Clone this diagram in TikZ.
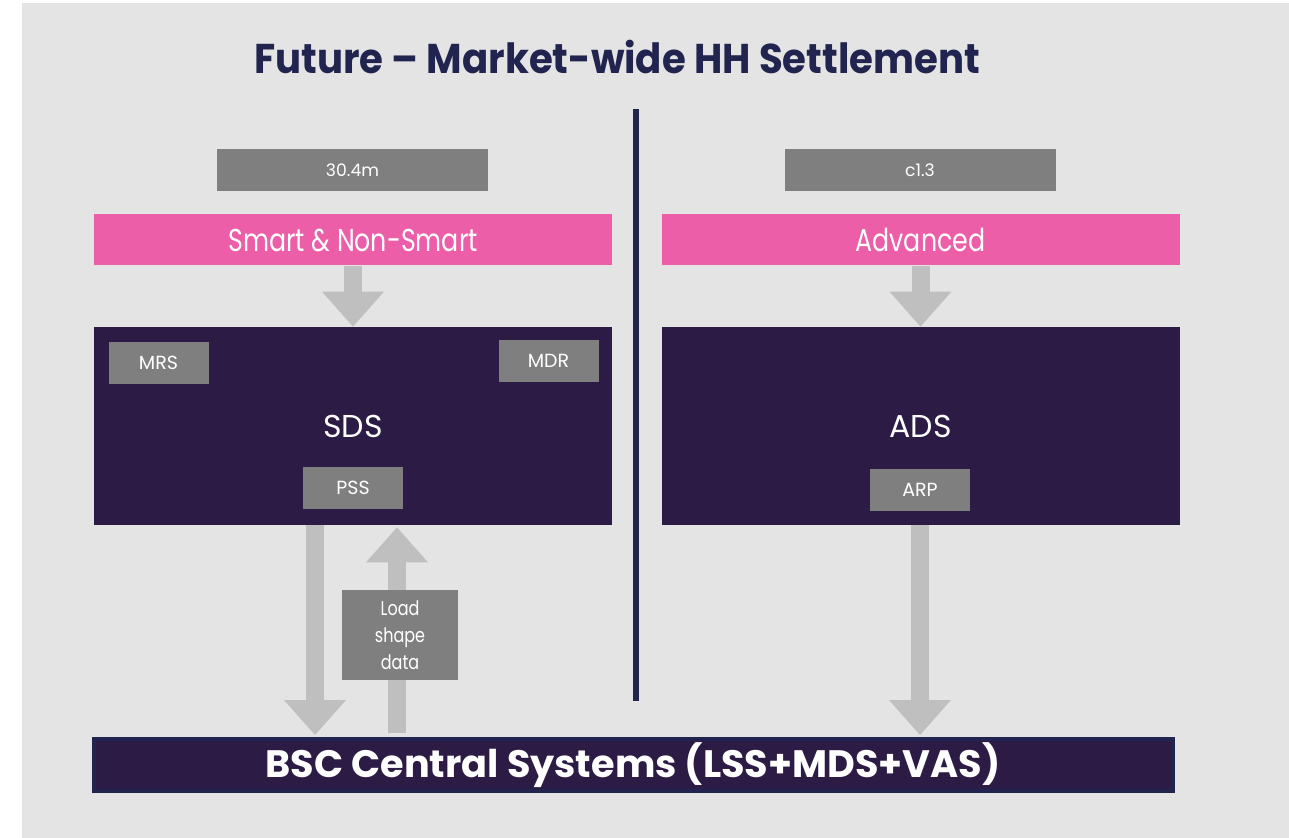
\documentclass[tikz,border=0pt]{standalone}
\usepackage{fontspec}
\setmainfont{Poppins}
\newfontfamily\titlefont{Poppins}[FakeStretch=0.93,Ligatures=TeX]
\newfontfamily\narrowfont{Poppins}[FakeStretch=0.8,Ligatures=TeX]
\usetikzlibrary{arrows.meta,positioning,calc}
\definecolor{backgrey}{HTML}{E4E4E4}
\definecolor{plum}{HTML}{2C1C45}
\definecolor{navy}{HTML}{20244F}
\definecolor{rose}{HTML}{EC5EA7}
\definecolor{slate}{HTML}{7F7F7F}
\definecolor{shaft}{HTML}{BFBFBF}

\begin{document}
\begin{tikzpicture}[x=0.5pt,y=-0.5pt,
   tag/.style={fill=slate,text=white,inner sep=0pt,minimum width=50pt,minimum height=21pt,
               font=\fontsize{9.5}{11}\selectfont},
   count/.style={tag,minimum width=135.5pt,font=\fontsize{8.6}{10}\selectfont},
   band/.style={fill=rose,text=white,inner sep=0pt,minimum width=259pt,minimum height=25.5pt,
                font=\narrowfont\fontsize{15.8}{19}\selectfont},
   system/.style={fill=plum,text=white,inner sep=0pt,minimum width=259pt,minimum height=99pt,
                  font=\fontsize{15.8}{19}\selectfont},
   flow/.style={shaft,line width=9pt,-{Triangle[width=31pt,length=17.5pt,line width=0pt]}}]
  \useasboundingbox (0,0) rectangle (1289,838);
  \fill[backgrey] (22,3) rectangle (1289,838);

  \node[text=navy,font=\titlefont\fontsize{20.8}{24}\selectfont\bfseries] (title) at (617,57)
    {Future -- Market-wide HH Settlement};
  \draw[navy,line width=3pt] (636,109) -- (636,701);

  % left half
  \node[count] (n304) at (352.5,170) {30.4m};
  \node[band] (smart) at (353,240) {Smart \& Non-Smart};
  \node[system] (sds) at (353,426) {SDS};
  \node[tag] (mrs) at (158.5,363) {MRS};
  \node[tag] (mdr) at (548.5,361) {MDR};
  \node[tag] (pss) at (353,488) {PSS};

  % right half
  \node[count] (nc13) at (920,170) {c1.3};
  \node[band] (adv) at (920.5,240) {Advanced};
  \node[system] (ads) at (920.5,426) {ADS};
  \node[tag] (arp) at (920,490) {ARP};

  \node[fill=plum,draw=navy,line width=2pt,text=white,inner sep=0pt,
        minimum width=539.5pt,minimum height=26pt,font=\fontsize{19.1}{22}\selectfont\bfseries]
    (bsc) at (633,765) {BSC Central Systems (LSS+MDS+VAS)};

  \draw[flow] (smart.south) -- (sds.north);
  \draw[flow] (adv.south) -- (ads.north);
  \draw[flow] (sds.south -| 315,0) -- ([yshift=1pt]bsc.north -| 315,0);
  \draw[flow] (ads.south -| arp) -- ([yshift=1pt]bsc.north -| arp);
  \draw[flow] ([yshift=2pt]bsc.north -| 397,0) -- ([yshift=-1pt]sds.south -| 397,0);
  \node[tag,minimum width=58pt,minimum height=44.5pt,align=center,
        font=\narrowfont\fontsize{10}{13.5}\selectfont] (load) at (400,635) {Load\\shape\\data};
\end{tikzpicture}
\end{document}
